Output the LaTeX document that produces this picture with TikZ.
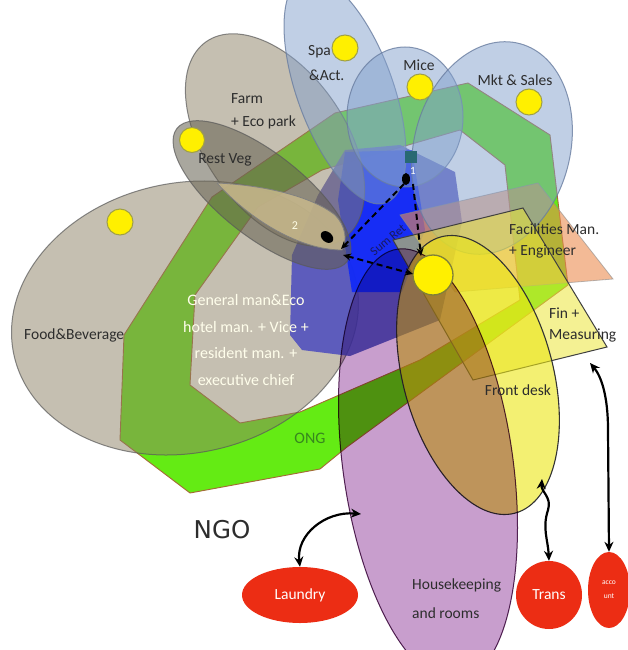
\documentclass[tikz,border=0pt]{standalone}
\usepackage{fontspec}
\setmainfont{Carlito}
\newfontfamily\ngofont{DejaVu Sans}
\usetikzlibrary{arrows.meta,shapes.geometric}
\definecolor{limeg}{RGB}{100,235,20}
\definecolor{ringedge}{RGB}{165,105,55}
\definecolor{tanF}{RGB}{140,128,100}
\definecolor{restc}{RGB}{100,95,80}
\definecolor{leafc}{RGB}{200,185,140}
\definecolor{ltblue}{RGB}{130,160,205}
\definecolor{ltblueedge}{RGB}{105,125,160}
\definecolor{slate}{RGB}{75,75,190}
\definecolor{brblue}{RGB}{15,40,250}
\definecolor{peach}{RGB}{235,140,80}
\definecolor{finy}{RGB}{235,230,60}
\definecolor{fdy}{RGB}{235,230,20}
\definecolor{purp}{RGB}{200,158,205}
\definecolor{purpedge}{RGB}{90,40,90}
\definecolor{dotY}{RGB}{255,240,0}
\definecolor{dotE}{RGB}{160,160,70}
\definecolor{redE}{RGB}{236,45,20}
\definecolor{txt}{RGB}{45,45,45}
\definecolor{navy}{RGB}{25,25,95}
\definecolor{ongtxt}{RGB}{55,135,30}
\definecolor{tealbox}{RGB}{40,105,115}
\begin{document}
\begin{tikzpicture}[x=1pt,y=-1pt,
  lbl/.style={font=\fontsize{15.5}{18}\selectfont, text=txt, inner sep=0pt},
  wlbl/.style={lbl, text=white},
  dotstyle/.style={fill=dotY, draw=dotE, line width=1pt},
  ltell/.style={fill=ltblue, fill opacity=0.5, draw=ltblueedge, draw opacity=0.8, line width=1pt},
  tanell/.style={fill=tanF, fill opacity=0.5, draw=black!65, draw opacity=0.7, line width=1pt},
  redell/.style={ellipse, fill=redE, draw=none, inner sep=0pt, text=white, font=\fontsize{15.5}{18}\selectfont},
  dblarr/.style={black, line width=2.2pt, {Stealth[length=10pt,width=9pt]}-{Stealth[length=10pt,width=9pt]}},
  dasharr/.style={black, line width=2pt, dash pattern=on 6pt off 4pt, -{Stealth[length=8pt,width=7pt]}},
  dasharrb/.style={black, line width=2pt, dash pattern=on 6pt off 4pt, {Stealth[length=8pt,width=7pt]}-{Stealth[length=8pt,width=7pt]}}
]
\useasboundingbox (0,0) rectangle (628,650);
\fill[white] (0,0) rectangle (628,650);

% green octagon ring (ONG)
\path[fill=limeg, even odd rule, draw=ringedge, line width=0.9pt]
  (120,440) -- (124,335) -- (212,197) -- (335,113) -- (468,83) -- (550,135) -- (568,285) -- (347,447) -- (320,469) -- (190,493) -- cycle
  (190,385) -- (195,295) -- (258,207) -- (322,170) -- (460,130) -- (505,165) -- (520,300) -- (420,360) -- (300,412) -- (240,423) -- cycle;

% Food & Beverage
\path[tanell, shift={(185,318)}, rotate=12] (0,0) ellipse [x radius=175, y radius=135];

% blue octagons
\fill[slate, opacity=0.85] (318,195) -- (292,255) -- (290,335) -- (302,350) -- (350,356) -- (440,320) -- (462,222) -- (455,172) -- (400,145) -- (345,150) -- cycle;
\fill[brblue, opacity=0.9] (345,152) -- (412,150) -- (425,230) -- (402,292) -- (352,292) -- (338,200) -- cycle;

% Facilities (peach)
\path[fill=peach, fill opacity=0.6, draw=black!45, draw opacity=0.6, line width=0.8pt] (400,215) -- (538,183) -- (613,279) -- (455,292) -- cycle;

% Farm + Eco park
\path[tanell, shift={(275,140)}, rotate=35] (0,0) ellipse [x radius=70, y radius=120];
% Rest Veg
\path[fill=restc, fill opacity=0.55, draw=black!65, draw opacity=0.7, line width=1pt, shift={(262,195)}, rotate=-38] (0,0) ellipse [x radius=108, y radius=42];
% leaf 2
\path[fill=leafc, fill opacity=0.85, draw=black!50, line width=0.8pt]
  (217,183) .. controls (260,185) and (310,195) .. (335,215) .. controls (345,225) and (348,240) .. (342,250) .. controls (300,250) and (250,220) .. (217,183);

% light blue ellipses
\path[ltell, shift={(345,90)}, rotate=20] (0,0) ellipse [x radius=48, y radius=120];
\path[ltell] (405,117) ellipse [x radius=58, y radius=70];
\path[ltell, shift={(492,148)}, rotate=-15] (0,0) ellipse [x radius=78, y radius=108];

% Fin (yellow)
\path[fill=finy, fill opacity=0.55, draw=black!75, line width=1pt] (393,240) -- (523,208) -- (607,347) -- (473,380) -- cycle;

% Front desk
\path[fill=fdy, fill opacity=0.6, draw=black!80, line width=1.1pt, shift={(478,375)}, rotate=15] (0,0) ellipse [x radius=75, y radius=143];

% Housekeeping
\begin{scope}[blend mode=multiply]
\path[fill=purp, draw=purpedge, line width=1pt, shift={(428,465)}, rotate=8] (0,0) ellipse [x radius=85, y radius=218];
\end{scope}

% yellow dots
\path[dotstyle] (345,48) circle (13);
\path[dotstyle] (420,87) circle (13);
\path[dotstyle] (529,102) circle (13);
\path[dotstyle] (192,140) circle (12.5);
\path[dotstyle] (120,222) circle (13);
\path[dotstyle, draw=dotE!80!black, line width=1.3pt] (433,275) circle (20);

% node 1 and blobs
\fill[tealbox] (405,151) rectangle (417,163);
\node[font=\fontsize{11}{12}\selectfont, text=white, inner sep=0pt] (one) at (413,171) {1};
\fill[black] (406,179) ellipse [x radius=4, y radius=6];
\fill[black, shift={(327,237)}, rotate=-40] (0,0) ellipse [x radius=7, y radius=5];
\node[font=\fontsize{12}{13}\selectfont, text=white!90!yellow, inner sep=0pt] (two) at (295,226) {2};

% dashed arrows
\coordinate (oneA) at (404,184);
\coordinate (oneB) at (413,184);
\coordinate (leafTip) at (341,249);
\coordinate (leafTipB) at (343,255);
\coordinate (circTop) at (421,256);
\coordinate (circLeft) at (413,274);
\draw[dasharr] (oneA) -- (leafTip);
\draw[dasharr] (oneB) -- (circTop);
\draw[dasharrb] (leafTipB) -- (circLeft);
\node[font=\fontsize{12.5}{14}\selectfont, text=navy, rotate=40, inner sep=0pt] (sumret) at (388,240) {Sum Ret};

% red ellipses
\node[redell, minimum width=116pt, minimum height=56pt] (laundry) at (300,595) {Laundry};
\node[redell, minimum width=66pt, minimum height=68pt] (trans) at (549,595) {Trans};
\node[redell, minimum width=42pt, minimum height=76pt, align=center, font=\fontsize{7.5}{14}\selectfont] (acct) at (609,590) {acco\\unt};

% solid double arrows
\coordinate (hkL) at (361,514);
\coordinate (fdB) at (542,479);
\coordinate (finB) at (590,363);
\draw[dblarr] (laundry.north) .. controls (296,535) and (325,511) .. (hkL);
\draw[dblarr] (trans.north) .. controls (548,540) and (542,528) .. (548,510) .. controls (552,497) and (541,492) .. (fdB);
\draw[dblarr] (acct.north) -- (608,430) .. controls (608,395) and (601,376) .. (finB);

% labels
\node[lbl, anchor=west] (spa) at (308,52) {Spa};
\node[lbl, anchor=west] (act) at (309,75) {\&Act.};
\node[lbl] (mice) at (419,65) {Mice};
\node[lbl] (mkt) at (515,80) {Mkt \& Sales};
\node[lbl, anchor=west] (farm) at (231,99) {Farm};
\node[lbl, anchor=west] (eco) at (231,122) {+ Eco park};
\node[lbl] (restveg) at (225,160) {Rest Veg};
\node[lbl, anchor=west] (food) at (24,335) {Food\&Beverage};
\node[wlbl, align=center, text=white!92!yellow, font=\fontsize{16}{26.5}\selectfont] (gm) at (246,340) {General man\&Eco\\hotel man. + Vice +\\resident man. +\\executive chief};
\node[lbl, text=ongtxt, font=\fontsize{16}{18}\selectfont] (ong) at (310,438) {ONG};
\node[lbl, anchor=west] (fac) at (509,229) {Facilities Man.};
\node[lbl, anchor=west] (eng) at (509,251) {+ Engineer};
\node[lbl, anchor=west] (fin) at (549,313) {Fin +};
\node[lbl, anchor=west] (meas) at (549,335) {Measuring};
\node[lbl] (front) at (518,390) {Front desk};
\node[lbl, anchor=west] (hk1) at (412,585) {Housekeeping};
\node[lbl, anchor=west] (hk2) at (412,613) {and rooms};
\node[font=\ngofont\fontsize{24.5}{26}\selectfont, text=txt, inner sep=0pt] (ngo) at (222,530) {NGO};
\end{tikzpicture}
\end{document}
